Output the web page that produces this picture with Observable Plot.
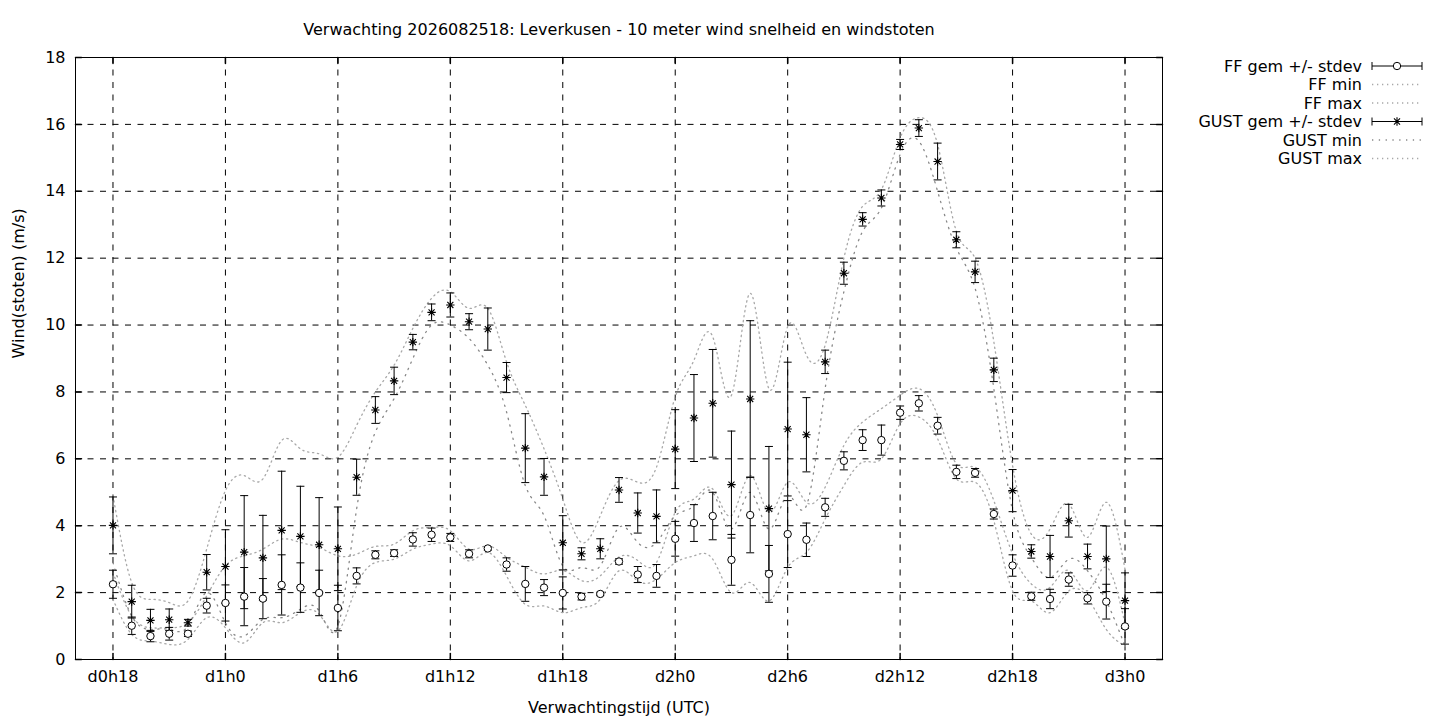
<!DOCTYPE html>
<html>
<head>
<meta charset="utf-8">
<script src="https://cdn.jsdelivr.net/npm/d3@7"></script>
<script src="https://cdn.jsdelivr.net/npm/@observablehq/plot@0.6"></script>
<style>
  html, body { margin: 0; padding: 0; background: #fff; }
  #chart svg { display: block; }
</style>
</head>
<body>
<div id="chart"></div>
<script>
// ---- Data (forecast hours since d0h0) ----
const hours = [18,19,20,21,22,23,24,25,26,27,28,29,30,31,32,33,34,35,36,37,38,39,40,41,42,43,44,45,46,47,48,49,50,51,52,53,54,55,56,57,58,59,60,61,62,63,64,65,66,67,68,69,70,71,72];

const ffMean = [2.25,1.01,0.70,0.77,0.77,1.61,1.69,1.88,1.82,2.23,2.15,1.99,1.54,2.50,3.13,3.18,3.59,3.73,3.65,3.16,3.32,2.84,2.26,2.15,1.99,1.88,1.96,2.93,2.54,2.50,3.61,4.08,4.29,2.98,4.32,2.56,3.75,3.58,4.55,5.94,6.56,6.56,7.38,7.66,6.99,5.61,5.58,4.35,2.81,1.89,1.81,2.39,1.83,1.73,0.99];
const ffStdev = [0.42,0.26,0.17,0.19,0.08,0.22,0.54,0.87,0.60,0.90,0.74,0.68,0.68,0.24,0.12,0.10,0.20,0.20,0.12,0.12,0.05,0.20,0.52,0.24,0.48,0.10,0.05,0.08,0.24,0.34,0.52,0.55,0.71,0.76,1.13,0.85,1.00,0.50,0.27,0.27,0.31,0.45,0.20,0.23,0.25,0.20,0.13,0.15,0.32,0.12,0.29,0.20,0.17,0.52,0.53];
const ffMin = [1.80,0.75,0.55,0.45,0.60,1.25,0.95,0.50,1.10,1.10,1.40,1.35,0.85,2.20,2.90,3.00,3.30,3.45,3.40,2.95,3.20,2.50,1.65,1.60,1.40,1.55,1.80,2.65,2.35,2.40,2.90,3.10,3.00,2.00,2.30,1.75,2.75,3.20,4.20,5.20,5.90,6.00,7.05,7.25,6.60,5.40,5.30,4.15,2.05,1.75,1.40,2.05,1.85,0.90,0.40];
const ffMax = [2.60,1.30,0.95,0.95,1.10,1.90,2.80,3.10,3.30,3.60,3.50,3.35,3.10,3.15,3.38,3.45,3.85,3.95,3.85,3.30,3.40,3.06,2.76,2.56,2.66,2.36,2.50,3.06,2.96,2.90,4.40,4.80,5.10,4.30,5.50,4.40,5.30,4.70,5.15,6.40,7.10,7.50,7.90,8.10,7.30,5.85,5.75,4.75,3.16,2.26,2.16,2.66,2.06,2.76,1.07];

const gustMean = [4.01,1.73,1.17,1.19,1.10,2.61,2.78,3.21,3.04,3.86,3.68,3.43,3.31,5.45,7.46,8.33,9.49,10.38,10.60,10.10,9.88,8.43,6.32,5.46,3.49,3.16,3.31,5.07,4.38,4.28,6.29,7.22,7.66,5.23,7.79,4.51,6.89,6.72,8.90,11.55,13.16,13.80,15.40,15.89,14.89,12.55,11.59,8.66,5.05,3.23,3.08,4.15,3.08,3.01,1.76];
const gustStdev = [0.85,0.49,0.33,0.32,0.10,0.53,1.10,1.69,1.27,1.77,1.50,1.41,1.25,0.54,0.40,0.41,0.23,0.25,0.36,0.24,0.63,0.45,1.03,0.55,0.81,0.18,0.30,0.37,0.60,0.79,1.18,1.30,1.61,1.60,2.34,1.86,2.00,1.11,0.35,0.33,0.20,0.24,0.15,0.25,0.55,0.24,0.32,0.35,0.63,0.20,0.63,0.49,0.37,0.98,0.83];
const gustMin = [2.90,1.30,0.90,0.90,1.00,2.00,1.10,0.70,1.20,1.25,1.50,1.45,1.00,4.50,6.80,7.80,9.00,10.00,10.00,9.60,8.80,7.40,5.20,4.30,2.80,2.75,2.80,3.95,3.50,3.50,4.30,4.60,5.00,3.90,5.00,3.90,4.90,4.60,8.10,11.00,12.80,13.50,15.10,15.50,14.00,12.30,11.10,8.10,4.45,3.05,2.45,3.00,2.65,1.75,0.40];
const gustMax = [4.90,2.30,1.80,1.70,1.75,3.30,5.05,5.50,5.40,6.55,6.30,6.15,6.05,7.00,8.00,8.80,9.90,10.80,11.00,10.50,10.50,8.90,7.60,6.30,4.80,3.50,4.30,5.35,5.30,5.75,7.85,8.95,9.65,7.90,10.95,8.10,9.95,9.10,9.40,12.00,13.55,14.05,15.60,16.20,15.40,12.80,12.00,9.50,5.80,3.75,3.90,4.65,3.65,4.70,2.70];

const xTickHours = [18,24,30,36,42,48,54,60,66,72];
const xTickLabels = ["d0h18","d1h0","d1h6","d1h12","d1h18","d2h0","d2h6","d2h12","d2h18","d3h0"];
const yTicks = [0,2,4,6,8,10,12,14,16,18];

const titleText = "Verwachting 2026082518: Leverkusen - 10 meter wind snelheid en windstoten";
const xLabelText = "Verwachtingstijd (UTC)";
const yLabelText = "Wind(stoten) (m/s)";
const legendLabels = ["FF gem +/- stdev","FF min","FF max","GUST gem +/- stdev","GUST min","GUST max"];

// ---- Table built from the arrays ----
const rows = hours.map((h, i) => ({
  h,
  ff: ffMean[i], ffLo: ffMean[i] - ffStdev[i], ffHi: ffMean[i] + ffStdev[i],
  ffMin: ffMin[i], ffMax: ffMax[i],
  gust: gustMean[i], gLo: gustMean[i] - gustStdev[i], gHi: gustMean[i] + gustStdev[i],
  gMin: gustMin[i], gMax: gustMax[i]
}));

// ---- Custom shapes ----
const capSymbol = { draw(ctx, size) { const r = Math.sqrt(size / Math.PI); ctx.moveTo(-r, 0); ctx.lineTo(r, 0); } };
const starSymbol = { draw(ctx, size) {
  const r = Math.sqrt(size / Math.PI), d = r * 0.72;
  ctx.moveTo(-r, 0); ctx.lineTo(r, 0);
  ctx.moveTo(0, -r); ctx.lineTo(0, r);
  ctx.moveTo(-d, -d); ctx.lineTo(d, d);
  ctx.moveTo(-d, d); ctx.lineTo(d, -d);
} };
const tickShape = { draw(ctx, l) { ctx.moveTo(0, 0); ctx.lineTo(0, -l); } };

const FONT = "DejaVu Sans, Verdana, sans-serif";
const FS = 16;
const dotStyle = { stroke: "#a8a8a8", strokeWidth: 1.3, strokeDasharray: "1.3,3.7", curve: "natural" };
const gridDash = "6,6.5";

const chart = Plot.plot({
  width: 1440,
  height: 720,
  marginLeft: 75,
  marginRight: 278,
  marginTop: 57,
  marginBottom: 61,
  style: { fontFamily: FONT, fontSize: FS + "px", background: "#fff", color: "#000", overflow: "visible" },
  x: { domain: [16, 74] },
  y: { domain: [0, 18] },
  marks: [
    Plot.gridX(xTickHours, { stroke: "#000", strokeOpacity: 1, strokeWidth: 1, strokeDasharray: gridDash }),
    Plot.gridY(yTicks, { stroke: "#000", strokeOpacity: 1, strokeWidth: 1, strokeDasharray: gridDash }),
    Plot.axisX(xTickHours, { anchor: "bottom", tickSize: 0, tickPadding: 11, tickFormat: (d) => xTickLabels[xTickHours.indexOf(d)], label: null, fontSize: FS }),
    Plot.axisY(yTicks, { anchor: "left", tickSize: 0, tickPadding: 10, label: null, fontSize: FS }),
    // inward tick marks on all four sides
    Plot.vector(xTickHours, { x: (d) => d, frameAnchor: "bottom", length: 6, anchor: "start", rotate: 0, shape: tickShape, stroke: "#000" }),
    Plot.vector(xTickHours, { x: (d) => d, frameAnchor: "top", length: 6, anchor: "start", rotate: 180, shape: tickShape, stroke: "#000" }),
    Plot.vector(yTicks, { y: (d) => d, frameAnchor: "left", length: 6, anchor: "start", rotate: 90, shape: tickShape, stroke: "#000" }),
    Plot.vector(yTicks, { y: (d) => d, frameAnchor: "right", length: 6, anchor: "start", rotate: -90, shape: tickShape, stroke: "#000" }),
    // min / max lines
    Plot.line(rows, { x: "h", y: "ffMin", ...dotStyle }),
    Plot.line(rows, { x: "h", y: "ffMax", ...dotStyle }),
    Plot.line(rows, { x: "h", y: "gMin", ...dotStyle, stroke: "#888", strokeDasharray: "1.3,5.5" }),
    Plot.line(rows, { x: "h", y: "gMax", ...dotStyle }),
    // error bars
    Plot.ruleX(rows, { x: "h", y1: "gLo", y2: "gHi", stroke: "#000", strokeWidth: 1 }),
    Plot.dot(rows, { x: "h", y: "gLo", symbol: capSymbol, r: 4, stroke: "#000", strokeWidth: 1 }),
    Plot.dot(rows, { x: "h", y: "gHi", symbol: capSymbol, r: 4, stroke: "#000", strokeWidth: 1 }),
    Plot.ruleX(rows, { x: "h", y1: "ffLo", y2: "ffHi", stroke: "#000", strokeWidth: 1 }),
    Plot.dot(rows, { x: "h", y: "ffLo", symbol: capSymbol, r: 4, stroke: "#000", strokeWidth: 1 }),
    Plot.dot(rows, { x: "h", y: "ffHi", symbol: capSymbol, r: 4, stroke: "#000", strokeWidth: 1 }),
    // mean points
    Plot.dot(rows, { x: "h", y: "gust", symbol: starSymbol, r: 4.2, stroke: "#000", strokeWidth: 1.1 }),
    Plot.dot(rows, { x: "h", y: "ff", r: 3.7, stroke: "#000", fill: "#fff", strokeWidth: 1 }),
    Plot.frame({ stroke: "#000", strokeWidth: 1 }),
    // titles
    Plot.text([titleText], { text: (d) => d, frameAnchor: "top", lineAnchor: "middle", dy: -28, fontSize: FS, fill: "#000" }),
    Plot.text([xLabelText], { text: (d) => d, frameAnchor: "bottom", lineAnchor: "middle", dy: 48, fontSize: FS, fill: "#000" }),
    Plot.text([yLabelText], { text: (d) => d, frameAnchor: "left", lineAnchor: "middle", dx: -57, rotate: -90, fontSize: FS, fill: "#000" })
  ]
});

document.getElementById("chart").appendChild(chart);

// ---- Legend (gnuplot style, right of the plot) ----
const svg = d3.select(chart);
const lg = svg.append("g").attr("font-family", FONT).attr("font-size", FS).attr("fill", "#000");
const rowY0 = 66, rowStep = 18.5, textRight = 1362, sx0 = 1372, sx1 = 1422;
legendLabels.forEach((lab, i) => {
  const y = rowY0 + i * rowStep;
  lg.append("text").attr("x", textRight).attr("y", y).attr("dy", "0.35em").attr("text-anchor", "end").text(lab);
  if (i === 0 || i === 3) {
    lg.append("path").attr("d", `M${sx0},${y}H${sx1}M${sx0},${y - 4}V${y + 4}M${sx1},${y - 4}V${y + 4}`)
      .attr("stroke", "#000").attr("fill", "none");
    const cx = (sx0 + sx1) / 2;
    if (i === 0) {
      lg.append("circle").attr("cx", cx).attr("cy", y).attr("r", 3.7).attr("fill", "#fff").attr("stroke", "#000");
    } else {
      const r = 4.2, d = r * 0.72;
      lg.append("path").attr("d", `M${cx - r},${y}H${cx + r}M${cx},${y - r}V${y + r}M${cx - d},${y - d}L${cx + d},${y + d}M${cx - d},${y + d}L${cx + d},${y - d}`)
        .attr("stroke", "#000").attr("stroke-width", 1.1).attr("fill", "none");
    }
  } else {
    lg.append("path").attr("d", `M${sx0},${y}H${sx1}`)
      .attr("stroke", i === 4 ? "#888" : "#a8a8a8").attr("stroke-width", 1.3)
      .attr("stroke-dasharray", i === 4 ? "1.3,5.5" : "1.3,3.7").attr("fill", "none");
  }
});
</script>
</body>
</html>
